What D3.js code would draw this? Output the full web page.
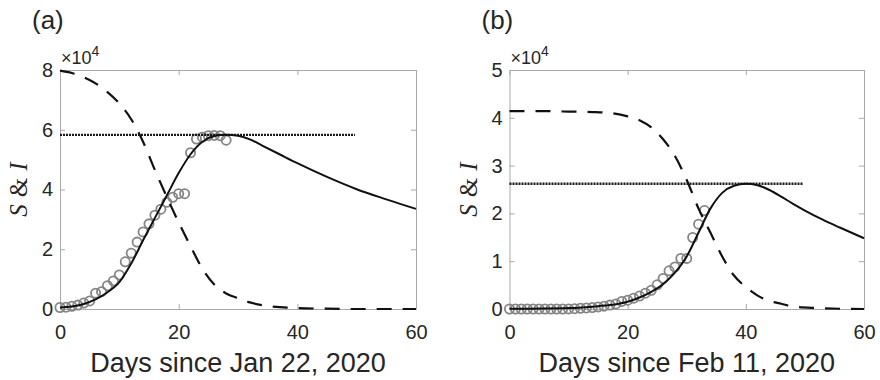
<!DOCTYPE html>
<html><head><meta charset="utf-8">
<script src="https://cdn.jsdelivr.net/npm/d3@7"></script>
<style>body{margin:0;background:#fff} svg{display:block}</style>
</head><body><svg id="chart" width="880" height="380"></svg>
<script>
// ---- Shared axis ticks ----
const xTicks = [0, 20, 40, 60];
const yTicksA = [0, 20000, 40000, 60000, 80000];
const yTicksB = [0, 10000, 20000, 30000, 40000, 50000];

// ---- Panel (a): reported active cases, days since Jan 22, 2020 ----
const obsDaysA = [0,1,2,3,4,5,6,7,8,9,10,11,12,13,14,15,16,17,18,19,20,21,22,23,24,25,26,27,28];
const obsA = [500,600,900,1300,2000,2700,5300,5800,7800,9400,11400,15800,18700,22400,25800,28500,
              31400,33400,35700,37400,38600,38600,52300,56900,57500,58000,58100,58000,56500];
// model susceptible (S) and infected (I) curves
const sDaysA = [0,2,4,6,8,10,12,14,16,18,20,22,24,26,28,30,32,35,40,45,50,60];
const sA = [79800,79000,77600,75500,72600,68800,63500,56000,46500,37500,29000,21000,
            13500,8200,5200,3600,2200,1000,300,100,0,0];
const iDaysA = [0,2,4,6,8,10,12,14,16,18,20,22,24,26,28,30,32,34,37,40,45,50,55,60];
const iA = [500,800,1700,3200,5600,9000,15200,23000,30500,38000,45500,51800,56000,57900,58300,
            58000,56800,54800,51800,48800,44200,40100,36700,33500];
const peakA = 58300;

// ---- Panel (b): reported active cases, days since Feb 11, 2020 ----
const obsDaysB = [0,1,2,3,4,5,6,7,8,9,10,11,12,13,14,15,16,17,18,19,20,21,22,23,24,25,26,27,28,29,30,31,32,33];
const obsB = [0,0,0,0,0,0,0,0,0,0,20,60,150,220,310,440,590,820,1050,1580,1840,2260,2710,3300,
              3920,5060,6390,7990,8790,10590,10590,14960,17750,20600];
const sDaysB = [0,5,10,14,17,20,22,24,26,28,30,32,34,36,38,40,42,44,46,48,52,56,60];
const sB = [41400,41400,41300,41200,41000,40300,39500,38000,35500,32000,27000,21000,16000,
            11000,7000,4600,2800,1700,1100,500,200,50,0];
const iDaysB = [0,10,15,18,20,22,24,26,28,30,32,34,36,38,40,42,44,46,48,50,53,56,60];
const iB = [30,200,600,1000,1500,2400,3600,5200,7600,11000,16000,21000,24300,25800,26200,
            25900,24900,23500,22000,20600,18700,17000,14800];
const peakB = 26200;

const peakLineEnd = 49.7;

const panels = [
  { tag: '(a)', xTitle: 'Days since Jan 22, 2020', left: 60, right: 416, yMax: 80000, yTicks: yTicksA,
    obsDays: obsDaysA, obs: obsA, sDays: sDaysA, s: sA, iDays: iDaysA, i: iA, peak: peakA },
  { tag: '(b)', xTitle: 'Days since Feb 11, 2020', left: 509.5, right: 864, yMax: 50000, yTicks: yTicksB,
    obsDays: obsDaysB, obs: obsB, sDays: sDaysB, s: sB, iDays: iDaysB, i: iB, peak: peakB }
];

const svg = d3.select('#chart');
svg.append('rect').attr('width', 880).attr('height', 380).attr('fill', '#fff');

const TOP = 70, BOTTOM = 309;
const AXIS_COL = '#a9a9a9', TEXT_COL = '#262626';
const SANS = '"Liberation Sans", Arial, Helvetica, sans-serif';
const SERIF = '"Liberation Serif", "Times New Roman", serif';

function styleAxis(sel) {
  sel.select('.domain').attr('stroke', AXIS_COL).attr('stroke-width', 1);
  sel.selectAll('.tick line').attr('stroke', AXIS_COL).attr('stroke-width', 1);
  sel.selectAll('.tick text').attr('fill', TEXT_COL).attr('font-family', SANS).attr('font-size', 20);
}

panels.forEach(p => {
  const g = svg.append('g');
  const x = d3.scaleLinear().domain([0, 60]).range([p.left, p.right]);
  const y = d3.scaleLinear().domain([0, p.yMax]).range([BOTTOM, TOP]);

  // box with inward ticks on all four sides
  g.append('g').attr('transform', `translate(0,${BOTTOM})`)
    .call(d3.axisBottom(x).tickValues(xTicks).tickSize(-5).tickSizeOuter(0).tickPadding(16).tickFormat(d3.format('d')))
    .call(styleAxis);
  g.append('g').attr('transform', `translate(0,${TOP})`)
    .call(d3.axisTop(x).tickValues(xTicks).tickSize(-5).tickSizeOuter(0).tickFormat(''))
    .call(styleAxis);
  g.append('g').attr('transform', `translate(${p.left},0)`)
    .call(d3.axisLeft(y).tickValues(p.yTicks).tickSize(-5).tickSizeOuter(0).tickPadding(7).tickFormat(d => d / 1e4))
    .call(styleAxis);
  g.append('g').attr('transform', `translate(${p.right},0)`)
    .call(d3.axisRight(y).tickValues(p.yTicks).tickSize(-5).tickSizeOuter(0).tickFormat(''))
    .call(styleAxis);

  // exponent label above the y axis
  const ex = g.append('text').attr('x', p.left + 1).attr('y', 64)
    .attr('font-family', SANS).attr('font-size', 18).attr('fill', TEXT_COL);
  ex.append('tspan').text('\u00d710');
  ex.append('tspan').attr('font-size', 14).attr('dy', -8).text('4');

  // panel tag
  g.append('text').attr('x', p.left - 28).attr('y', 29)
    .attr('font-family', SANS).attr('font-size', 26).attr('fill', TEXT_COL).text(p.tag);

  // x-axis title
  g.append('text').attr('x', (p.left + p.right) / 2).attr('y', 372)
    .attr('text-anchor', 'middle').attr('font-family', SANS).attr('font-size', 27)
    .attr('fill', TEXT_COL).text(p.xTitle);

  // y-axis title
  const yt = g.append('text')
    .attr('transform', `translate(${p.left - 33},${(TOP + BOTTOM) / 2}) rotate(-90)`)
    .attr('text-anchor', 'middle').attr('font-family', SERIF).attr('font-size', 25).attr('fill', TEXT_COL);
  yt.append('tspan').attr('font-style', 'italic').text('S');
  yt.append('tspan').attr('dx', 7).text('&');
  yt.append('tspan').attr('dx', 7).attr('font-style', 'italic').text('I');

  // observed data
  g.append('g').selectAll('circle').data(p.obsDays.map((d, k) => [d, p.obs[k]])).join('circle')
    .attr('cx', d => x(d[0])).attr('cy', d => y(d[1])).attr('r', 4.6)
    .attr('fill', 'none').attr('stroke', '#858585').attr('stroke-width', 1.8);

  const line = d3.line().x(d => x(d[0])).y(d => y(d[1])).curve(d3.curveMonotoneX);

  // peak level
  g.append('path').datum([[0, p.peak], [peakLineEnd, p.peak]]).attr('d', line)
    .attr('fill', 'none').attr('stroke', '#1a1a1a').attr('stroke-width', 2.4).attr('stroke-dasharray', '2,1');

  // S (dashed)
  g.append('path').datum(p.sDays.map((d, k) => [d, p.s[k]])).attr('d', line)
    .attr('fill', 'none').attr('stroke', '#111').attr('stroke-width', 2.2).attr('stroke-dasharray', '15,11');

  // I (solid)
  g.append('path').datum(p.iDays.map((d, k) => [d, p.i[k]])).attr('d', line)
    .attr('fill', 'none').attr('stroke', '#111').attr('stroke-width', 2);
});
</script></body></html>
